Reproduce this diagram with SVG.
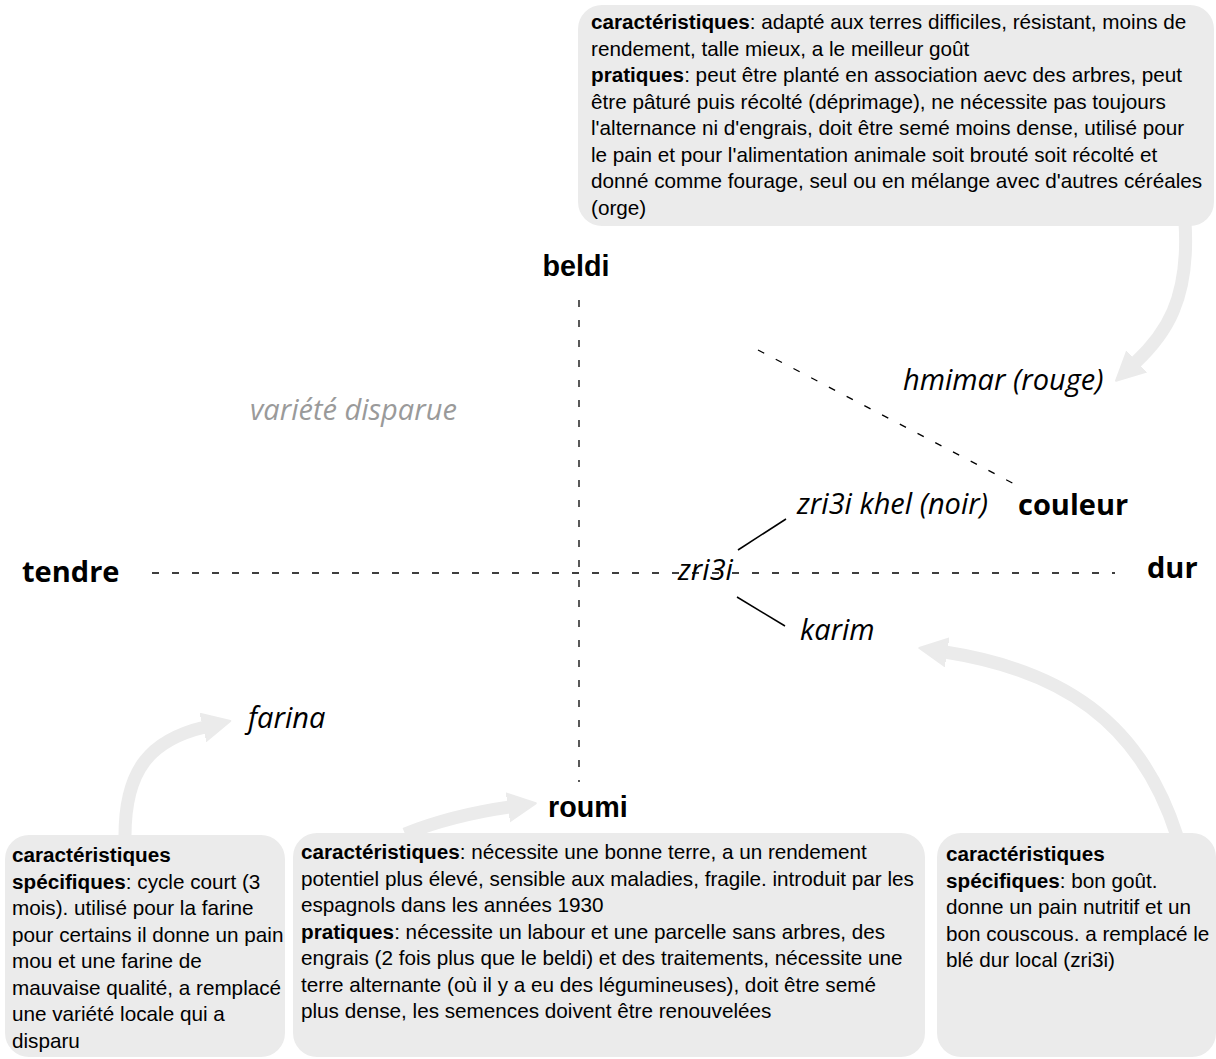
<svg xmlns="http://www.w3.org/2000/svg" width="1216" height="1059" viewBox="0 0 1216 1059">
<style>
.box{fill:#ebebeb}
.bt{font-family:"Liberation Sans",Arial,sans-serif;font-size:20.7px;fill:#000}
.b{font-weight:bold}
.ax{font-family:"Open Sans","Noto Sans",sans-serif;font-weight:bold;font-size:29px;fill:#000}
.axa{font-family:"Liberation Sans",Arial,sans-serif;font-weight:bold;font-size:28.7px;fill:#000}
.it{font-family:"Open Sans","Noto Sans",sans-serif;font-style:italic;font-size:29px;fill:#000}
.gray{fill:#9a9a9a}
.dash{stroke:#000;stroke-width:1.3;stroke-dasharray:7 13;fill:none}
.solid{stroke:#000;stroke-width:1.5;fill:none}
.arr{stroke:#ebebeb;stroke-width:13;fill:none;marker-end:url(#head)}
</style>
<defs>
<marker id="head" markerUnits="userSpaceOnUse" markerWidth="40" markerHeight="40" refX="2" refY="15" orient="auto" viewBox="0 0 40 40">
<path d="M0,1 L28,15 L0,29 z" fill="#ebebeb" stroke="#ebebeb" stroke-width="2" stroke-linejoin="round"/>
</marker>
</defs>
<g id="connectors">
<line class="dash" x1="152" y1="573" x2="1115" y2="573"/>
<line class="dash" x1="579" y1="300" x2="579" y2="782"/>
<line class="dash" x1="758" y1="350" x2="1022" y2="488"/>
<line class="solid" x1="738" y1="550" x2="786" y2="519"/>
<line class="solid" x1="737" y1="597" x2="785" y2="626"/>
<path class="arr" d="M1185,222 C1190,300 1165,335 1135,363"/>
<path class="arr" d="M125,836 C125,770 150,740 205,727"/>
<path class="arr" d="M405,834 C440,820 475,812 510,807"/>
<path class="arr" d="M1177,836 C1140,720 1060,670 945,652"/>
</g>
<g id="axis-beldi"><text class="axa" x="576" y="276" text-anchor="middle">beldi</text></g>
<g id="axis-roumi"><text class="axa" x="548" y="817">roumi</text></g>
<g id="axis-tendre"><text class="ax" x="22" y="582">tendre</text></g>
<g id="axis-dur"><text class="ax" x="1147" y="578">dur</text></g>
<g id="axis-couleur"><text class="ax" x="1018" y="515">couleur</text></g>
<g id="variete-disparue"><text class="it gray" x="250" y="420">variété disparue</text></g>
<g id="hmimar"><text class="it" x="903" y="390">hmimar (rouge)</text></g>
<g id="zri3i-khel"><text class="it" x="797" y="514">zri3i khel (noir)</text></g>
<g id="zri3i"><text class="it" x="678" y="580">zri3i</text></g>
<g id="karim"><text class="it" x="800" y="640">karim</text></g>
<g id="farina"><text class="it" x="248" y="728">farina</text></g>
<g id="box-beldi">
<rect class="box" x="578" y="5" width="636" height="221" rx="24"/>
<text class="bt">
<tspan x="591" y="29"><tspan class="b">caractéristiques</tspan>: adapté aux terres difficiles, résistant, moins de</tspan>
<tspan x="591" y="55.5">rendement, talle mieux, a le meilleur goût</tspan>
<tspan x="591" y="82"><tspan class="b">pratiques</tspan>: peut être planté en association aevc des arbres, peut</tspan>
<tspan x="591" y="108.5">être pâturé puis récolté (déprimage), ne nécessite pas toujours</tspan>
<tspan x="591" y="135">l'alternance ni d'engrais, doit être semé moins dense, utilisé pour</tspan>
<tspan x="591" y="161.5">le pain et pour l'alimentation animale soit brouté soit récolté et</tspan>
<tspan x="591" y="188">donné comme fourage, seul ou en mélange avec d'autres céréales</tspan>
<tspan x="591" y="214.5">(orge)</tspan>
</text>
</g>
<g id="box-farina">
<rect class="box" x="5" y="835" width="280" height="222" rx="24"/>
<text class="bt">
<tspan x="12" y="862" class="b">caractéristiques</tspan>
<tspan x="12" y="888.5"><tspan class="b">spécifiques</tspan>: cycle court (3</tspan>
<tspan x="12" y="915">mois). utilisé pour la farine</tspan>
<tspan x="12" y="941.5">pour certains il donne un pain</tspan>
<tspan x="12" y="968">mou et une farine de</tspan>
<tspan x="12" y="994.5">mauvaise qualité, a remplacé</tspan>
<tspan x="12" y="1021">une variété locale qui a</tspan>
<tspan x="12" y="1047.5">disparu</tspan>
</text>
</g>
<g id="box-roumi">
<rect class="box" x="293" y="833" width="632" height="224" rx="24"/>
<text class="bt">
<tspan x="301" y="859"><tspan class="b">caractéristiques</tspan>: nécessite une bonne terre, a un rendement</tspan>
<tspan x="301" y="885.5">potentiel plus élevé, sensible aux maladies, fragile. introduit par les</tspan>
<tspan x="301" y="912">espagnols dans les années 1930</tspan>
<tspan x="301" y="938.5"><tspan class="b">pratiques</tspan>: nécessite un labour et une parcelle sans arbres, des</tspan>
<tspan x="301" y="965">engrais (2 fois plus que le beldi) et des traitements, nécessite une</tspan>
<tspan x="301" y="991.5">terre alternante (où il y a eu des légumineuses), doit être semé</tspan>
<tspan x="301" y="1018">plus dense, les semences doivent être renouvelées</tspan>
</text>
</g>
<g id="box-karim">
<rect class="box" x="937" y="833" width="279" height="224" rx="24"/>
<text class="bt">
<tspan x="946" y="861" class="b">caractéristiques</tspan>
<tspan x="946" y="887.5"><tspan class="b">spécifiques</tspan>: bon goût.</tspan>
<tspan x="946" y="914">donne un pain nutritif et un</tspan>
<tspan x="946" y="940.5">bon couscous. a remplacé le</tspan>
<tspan x="946" y="967">blé dur local (zri3i)</tspan>
</text>
</g>
</svg>
